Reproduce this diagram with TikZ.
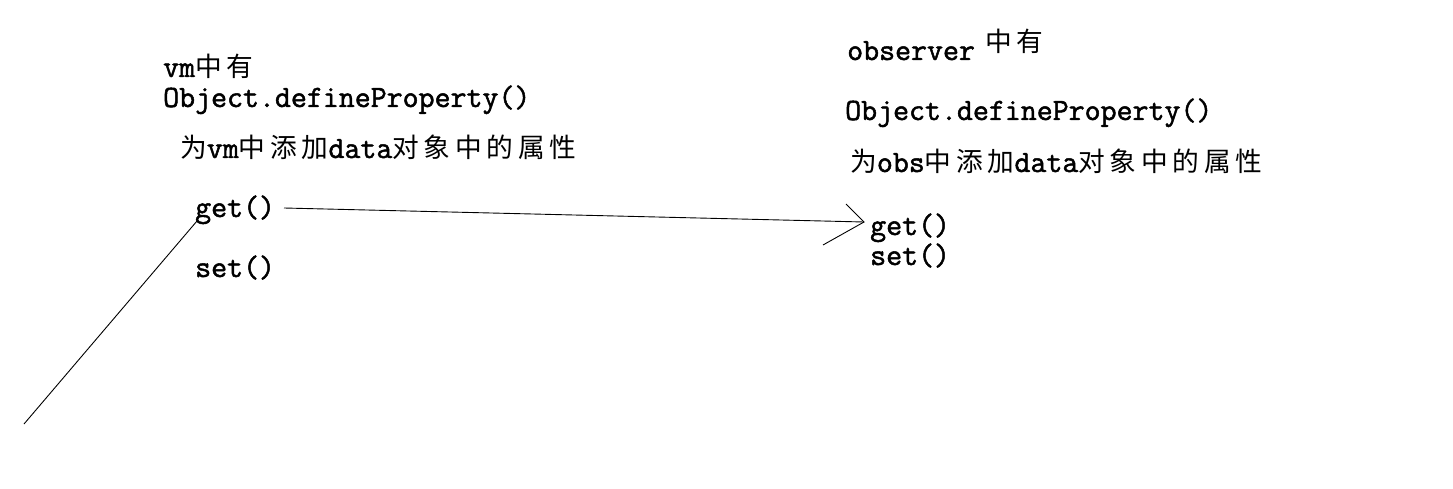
\documentclass[tikz,border=0pt]{standalone}
\usepackage{fontspec}
\setmainfont{Latin Modern Mono}[FakeBold=1.6]
\newfontfamily\cjk[LetterSpace=18]{Noto Sans CJK SC}
\newcommand{\zh}[1]{{\cjk\fontsize{26.7}{30}\selectfont #1}}
\tikzset{
  txt/.style={anchor=base west, inner sep=0pt, font=\fontsize{31}{34}\selectfont},
  conn/.style={draw=black, line width=0.9pt},
}
\begin{document}
\begin{tikzpicture}[x=1pt,y=-1pt]
\useasboundingbox[fill=white] (0,0) rectangle (1453,489);
% left column
\node[txt] (vmhas) at (163,77) {vm\zh{中有}};
\node[txt] (odp1) at (163,107) {Object.defineProperty()};
\node[txt] (add1) at (180,158) {\zh{为}vm\zh{中添加}data\zh{对象中的属性}};
\node[txt] (get1) at (195,217) {get()};
\node[txt] (set1) at (195,277) {set()};
% right column
\node[txt] (obs) at (847,60) {observer};
\node[txt] (obshas) at (985,52) {\zh{中有}};
\node[txt] (odp2) at (845,120) {Object.defineProperty()};
\node[txt] (add2) at (850,172) {\zh{为}obs\zh{中添加}data\zh{对象中的属性}};
\node[txt] (get2) at (870,235) {get()};
\node[txt] (set2) at (870,265) {set()};
% connectors
\coordinate (start) at (284,208);
\coordinate (tip) at (864,222);
\coordinate (armA) at (846,204);
\coordinate (armB) at (823,245);
\coordinate (low) at (197,221);
\coordinate (free) at (24,424);
\draw[conn] (start) -- (tip);
\draw[conn] (armA) -- (tip) -- (armB);
\draw[conn] (low) -- (free);
\end{tikzpicture}
\end{document}
